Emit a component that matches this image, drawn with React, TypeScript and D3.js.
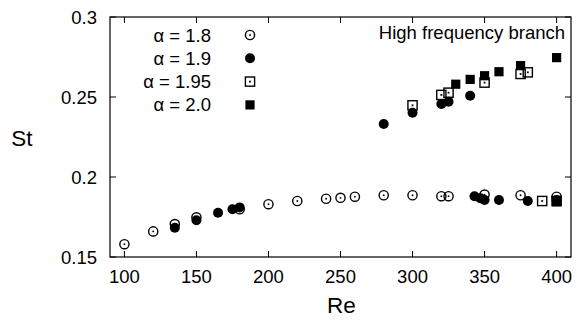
import React from "react";
import * as d3 from "d3";

const re18 = [100, 120, 135, 150, 180, 200, 220, 240, 250, 260, 280, 300, 320, 325, 350, 375, 400];
const st18 = [0.158, 0.166, 0.1706, 0.1748, 0.1798, 0.183, 0.185, 0.1864, 0.187, 0.1877, 0.1886, 0.1886, 0.188, 0.188, 0.189, 0.1886, 0.1877];

const re19 = [135, 150, 165, 175, 180, 280, 300, 320, 325, 340, 343, 347, 350, 360, 380, 400];
const st19 = [0.1683, 0.173, 0.1777, 0.1798, 0.181, 0.2331, 0.2402, 0.2456, 0.247, 0.2508, 0.188, 0.1867, 0.1856, 0.1856, 0.185, 0.1856];

const re195 = [300, 320, 325, 350, 375, 380, 390, 400];
const st195 = [0.2448, 0.2513, 0.2527, 0.259, 0.2644, 0.2654, 0.185, 0.185];

const re20 = [330, 340, 350, 360, 375, 400, 400];
const st20 = [0.258, 0.261, 0.2633, 0.2658, 0.2696, 0.2746, 0.1845];

const xTicks = [100, 150, 200, 250, 300, 350, 400];
const yTicks = [0.15, 0.2, 0.25, 0.3];
const legendLabels = ["α = 1.8", "α = 1.9", "α = 1.95", "α = 2.0"];
const markerKinds = ["openCircle", "filledCircle", "openSquare", "filledSquare"];

const W = 577, H = 320;
const M = { left: 110, right: 571, top: 17, bottom: 257 };
const FONT = "'Liberation Sans', Arial, Helvetica, sans-serif";
const FS = 18.5;

function Marker({ kind, x, y }: { kind: string; x: number; y: number }) {
  const r = 4.6;
  if (kind === "openCircle")
    return (
      <g>
        <circle cx={x} cy={y} r={r} fill="none" stroke="#000" strokeWidth={1.4} />
        <circle cx={x} cy={y} r={0.9} fill="#000" />
      </g>
    );
  if (kind === "filledCircle") return <circle cx={x} cy={y} r={r + 0.4} fill="#000" />;
  if (kind === "openSquare")
    return (
      <g>
        <rect x={x - r} y={y - r} width={2 * r} height={2 * r} fill="none" stroke="#000" strokeWidth={1.4} />
        <rect x={x - 0.9} y={y - 0.9} width={1.8} height={1.8} fill="#000" />
      </g>
    );
  return <rect x={x - r} y={y - r} width={2 * r} height={2 * r} fill="#000" />;
}

export default function App() {
  const x = d3.scaleLinear().domain([90, 410]).range([M.left, M.right]);
  const y = d3.scaleLinear().domain([0.15, 0.3]).range([M.bottom, M.top]);
  const series = [
    { kind: markerKinds[0], re: re18, st: st18 },
    { kind: markerKinds[1], re: re19, st: st19 },
    { kind: markerKinds[2], re: re195, st: st195 },
    { kind: markerKinds[3], re: re20, st: st20 },
  ];
  const tl = 6;
  return (
    <svg width={W} height={H} style={{ position: "fixed", left: 0, top: 0, background: "#fff" }} fontFamily={FONT}>
      <rect x={0} y={0} width={W} height={H} fill="#fff" />
      {xTicks.map((t) => (
        <g key={"x" + t}>
          <line x1={x(t)} x2={x(t)} y1={M.bottom} y2={M.bottom - tl} stroke="#000" />
          <line x1={x(t)} x2={x(t)} y1={M.top} y2={M.top + tl} stroke="#000" />
          <text x={x(t)} y={M.bottom + 26} textAnchor="middle" fontSize={FS}>
            {t}
          </text>
        </g>
      ))}
      {yTicks.map((t) => (
        <g key={"y" + t}>
          <line x1={M.left} x2={M.left + tl} y1={y(t)} y2={y(t)} stroke="#000" />
          <line x1={M.right} x2={M.right - tl} y1={y(t)} y2={y(t)} stroke="#000" />
          <text x={97} y={y(t) + 6.5} textAnchor="end" fontSize={FS}>
            {d3.format("")(t)}
          </text>
        </g>
      ))}
      <rect x={M.left} y={M.top} width={M.right - M.left} height={M.bottom - M.top} fill="none" stroke="#000" strokeWidth={1.2} />
      <text x={(M.left + M.right) / 2 + 1} y={313} textAnchor="middle" fontSize={22.5}>
        Re
      </text>
      <text x={22} y={146} textAnchor="middle" fontSize={22.5}>
        St
      </text>
      <text x={565} y={39} textAnchor="end" fontSize={FS}>
        High frequency branch
      </text>
      {legendLabels.map((l, i) => (
        <g key={l}>
          <text x={211} y={35 + i * 23.3 + 6.5} textAnchor="end" fontSize={FS}>
            {l}
          </text>
          <Marker kind={markerKinds[i]} x={250} y={35 + i * 23.3} />
        </g>
      ))}
      {series.map((s, si) =>
        s.re.map((r, i) => <Marker key={si + "-" + i} kind={s.kind} x={x(r)} y={y(s.st[i])} />)
      )}
    </svg>
  );
}
